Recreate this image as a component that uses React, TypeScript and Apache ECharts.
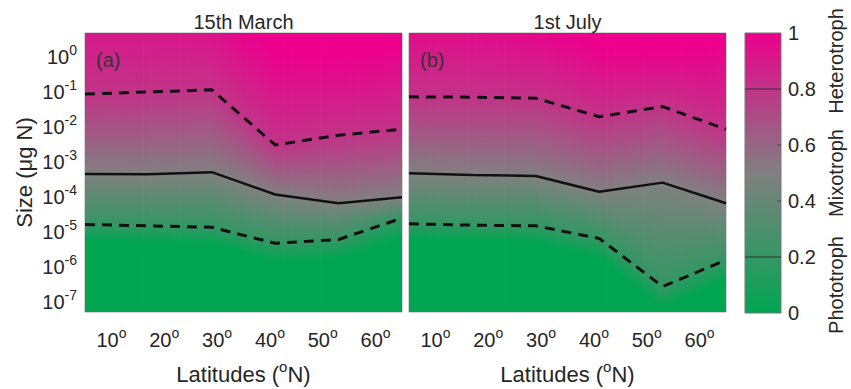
import React, { useEffect, useRef } from 'react';
import * as echarts from 'echarts';

// ---------- data ----------
const LATITUDES = [5, 17, 29, 41, 53, 65];
const LAT_TICKS = [10, 20, 30, 40, 50, 60];
const SIZE_TICKS = [-7, -6, -5, -4, -3, -2, -1, 0]; // log10 of size (µg N)
const SIZE_MIN = -7.3;
const SIZE_MAX = 0.7;
const LAT_MIN = 5;
const LAT_MAX = 65;

// heterotrophy level reached at each latitude (log10 size)
const LEVELS = [0, 0.2, 0.5, 0.8, 1];

// 15th March
const MARCH_L00 = [-5.25, -5.3, -5.35, -5.85, -5.8, -5.2];
const MARCH_L20 = [-4.79, -4.83, -4.87, -5.33, -5.22, -4.61];
const MARCH_L50 = [-3.34, -3.35, -3.29, -3.93, -4.18, -4.01];
const MARCH_L80 = [-1.05, -0.99, -0.93, -2.51, -2.23, -2.06];
const MARCH_L100 = [2.4, 2.2, 1.6, 0.2, 0.0, 0.3];

// 1st July
const JULY_L00 = [-5.2, -5.25, -5.3, -5.75, -7.2, -6.4];
const JULY_L20 = [-4.77, -4.81, -4.83, -5.19, -6.57, -5.81];
const JULY_L50 = [-3.32, -3.37, -3.4, -3.85, -3.59, -4.18];
const JULY_L80 = [-1.13, -1.14, -1.17, -1.7, -1.41, -2.06];
const JULY_L100 = [1.3, 1.3, 1.0, 0.3, 0.2, 0.4];

// colormap
const CMAP_STOPS = [0, 0.5, 1];
const CMAP_COLORS = [
  [0, 166, 81],
  [128, 128, 128],
  [236, 0, 140],
];
const COLORBAR_TICKS = [0, 0.2, 0.4, 0.6, 0.8, 1];
const COLORBAR_MINOR = [0.4, 0.6];
const COLORBAR_LINES = [0.2, 0.8];
const CLASS_NAMES = ['Phototroph', 'Mixotroph', 'Heterotroph'];
const CLASS_CENTERS = [0.1, 0.5, 0.9];

const PANEL_TITLES = ['15th March', '1st July'];
const PANEL_TAGS = ['(a)', '(b)'];

// ---------- helpers ----------
const FONT = 'Liberation Sans, Arial, Helvetica, sans-serif';
const TXT = '#262626';

const lerp = (a: number, b: number, t: number) => a + (b - a) * t;

function cmap(v: number): string {
  const x = Math.max(0, Math.min(1, v));
  let k = 0;
  while (k < CMAP_STOPS.length - 2 && x > CMAP_STOPS[k + 1]) k++;
  const t = (x - CMAP_STOPS[k]) / (CMAP_STOPS[k + 1] - CMAP_STOPS[k]);
  const c = CMAP_COLORS[k].map((a, j) => Math.round(lerp(a, CMAP_COLORS[k + 1][j], t)));
  return `rgb(${c[0]},${c[1]},${c[2]})`;
}

function valueAt(pos: number, knots: number[]): number {
  if (pos <= knots[0]) return LEVELS[0];
  for (let k = 0; k < knots.length - 1; k++) {
    if (pos <= knots[k + 1]) {
      return lerp(LEVELS[k], LEVELS[k + 1], (pos - knots[k]) / (knots[k + 1] - knots[k]));
    }
  }
  return LEVELS[LEVELS.length - 1];
}

function makeFieldRenderer(levelArrays: number[][]) {
  return (params: any, api: any) => {
    const i = params.dataIndex;
    const pTop = api.coord([LATITUDES[i], SIZE_MAX]);
    const pBot = api.coord([LATITUDES[i], SIZE_MIN]);
    const pRight = api.coord([LATITUDES[i + 1], SIZE_MAX]);
    const N = 24;
    const w = (pRight[0] - pTop[0]) / N;
    const children: any[] = [];
    for (let s = 0; s < N; s++) {
      const t = (s + 0.5) / N;
      const knots = levelArrays.map((a) => lerp(a[i], a[i + 1], t));
      const pts: number[][] = [[SIZE_MAX, valueAt(SIZE_MAX, knots)]];
      for (let k = knots.length - 1; k >= 0; k--) {
        if (knots[k] < SIZE_MAX && knots[k] > SIZE_MIN) pts.push([knots[k], LEVELS[k]]);
      }
      pts.push([SIZE_MIN, valueAt(SIZE_MIN, knots)]);
      const stops = pts.map(([p, v]) => ({
        offset: (SIZE_MAX - p) / (SIZE_MAX - SIZE_MIN),
        color: cmap(v),
      }));
      children.push({
        type: 'rect',
        shape: { x: pTop[0] + s * w, y: pTop[1], width: w + 0.8, height: pBot[1] - pTop[1] },
        style: { fill: new echarts.graphic.LinearGradient(0, 0, 0, 1, stops) },
      });
    }
    return { type: 'group', children };
  };
}

function colorbarRenderer(params: any, api: any) {
  const p0 = api.coord([0, 1]);
  const p1 = api.coord([1, 0]);
  const stops = CMAP_STOPS.map((s) => ({ offset: 1 - s, color: cmap(s) })).reverse();
  const children: any[] = [
    {
      type: 'rect',
      shape: { x: p0[0], y: p0[1], width: p1[0] - p0[0], height: p1[1] - p0[1] },
      style: { fill: new echarts.graphic.LinearGradient(0, 0, 0, 1, stops), stroke: '#777', lineWidth: 1 },
    },
  ];
  COLORBAR_LINES.forEach((v) => {
    const a = api.coord([0, v]);
    const b = api.coord([1, v]);
    children.push({
      type: 'line',
      shape: { x1: a[0], y1: a[1], x2: b[0], y2: b[1] },
      style: { stroke: '#333', lineWidth: 1 },
    });
  });
  COLORBAR_MINOR.forEach((v) => {
    const b = api.coord([1, v]);
    children.push({
      type: 'line',
      shape: { x1: b[0] - 4, y1: b[1], x2: b[0], y2: b[1] },
      style: { stroke: '#444', lineWidth: 1 },
    });
  });
  return { type: 'group', children };
}

const richTick = {
  n: { fontSize: 20, lineHeight: 28, color: TXT, fontFamily: FONT },
  s: { fontSize: 14, lineHeight: 14, verticalAlign: 'top', color: TXT, fontFamily: FONT },
};
const richName = {
  n: { fontSize: 22, lineHeight: 30, color: TXT, fontFamily: FONT },
  s: { fontSize: 15, lineHeight: 15, verticalAlign: 'top', color: TXT, fontFamily: FONT },
};

function contourSeries(gridIdx: number, arr: number[], dashed: boolean) {
  return {
    type: 'line',
    xAxisIndex: gridIdx,
    yAxisIndex: gridIdx,
    data: LATITUDES.map((l, k) => [l, arr[k]]),
    symbol: 'none',
    z: 5,
    lineStyle: {
      color: '#111',
      width: dashed ? 3 : 2.5,
      type: dashed ? [10, 7] : 'solid',
    },
    silent: true,
  };
}

const PANELS = [
  [MARCH_L00, MARCH_L20, MARCH_L50, MARCH_L80, MARCH_L100],
  [JULY_L00, JULY_L20, JULY_L50, JULY_L80, JULY_L100],
];

function buildOption() {
  const grids: any[] = [
    { left: 85, top: 33, width: 317, height: 279 },
    { left: 409, top: 33, width: 317, height: 279 },
  ].map((g) => ({ ...g, show: true, borderColor: '#aaa', borderWidth: 1, backgroundColor: 'transparent', containLabel: false, outerBoundsMode: 'none' }));
  grids.push({ left: 745, top: 33, width: 36, height: 280, show: false, containLabel: false, outerBoundsMode: 'none' });

  const xAxes: any[] = [0, 1].map((g) => ({
    type: 'value',
    gridIndex: g,
    min: LAT_MIN,
    max: LAT_MAX,
    axisLine: { show: false },
    axisTick: { show: false },
    splitLine: { show: false },
    axisLabel: {
      customValues: LAT_TICKS,
      margin: 14,
      formatter: (v: number) => `{n|${v}}{s|o}`,
      rich: richTick,
    },
    name: '{n|Latitudes (}{s|o}{n|N)}',
    nameLocation: 'middle',
    nameGap: 47,
    nameTextStyle: { rich: richName },
  }));
  xAxes.push({ type: 'value', gridIndex: 2, min: 0, max: 1, show: false });

  const yAxes: any[] = [0, 1].map((g) => ({
    type: 'value',
    gridIndex: g,
    min: SIZE_MIN,
    max: SIZE_MAX,
    axisLine: { show: false },
    axisTick: { show: false },
    splitLine: { show: false },
    axisLabel: {
      show: g === 0,
      customValues: SIZE_TICKS,
      margin: 8,
      formatter: (v: number) => `{n|10}{s|${Math.round(v)}}`,
      rich: richTick,
    },
    name: g === 0 ? 'Size (μg N)' : '',
    nameLocation: 'middle',
    nameGap: 50,
    nameTextStyle: { fontSize: 22, color: TXT, fontFamily: FONT },
  }));
  yAxes.push({
    type: 'value',
    gridIndex: 2,
    position: 'right',
    min: 0,
    max: 1,
    axisLine: { show: false },
    splitLine: { show: false },
    axisTick: { show: false },
    axisLabel: {
      customValues: COLORBAR_TICKS,
      margin: 7,
      fontSize: 20,
      color: TXT,
      fontFamily: FONT,
      formatter: (v: number) => String(+v.toFixed(1)),
    },
  });
  yAxes.push({
    type: 'value',
    gridIndex: 2,
    position: 'right',
    offset: 37,
    min: 0,
    max: 1,
    axisLine: { show: false },
    splitLine: { show: false },
    axisTick: { show: false },
    axisLabel: {
      customValues: CLASS_CENTERS,
      rotate: 90,
      margin: 8,
      fontSize: 20,
      color: TXT,
      fontFamily: FONT,
      formatter: (v: number) => {
        let best = 0;
        CLASS_CENTERS.forEach((c, k) => {
          if (Math.abs(c - v) < Math.abs(CLASS_CENTERS[best] - v)) best = k;
        });
        return CLASS_NAMES[best];
      },
    },
  });

  const series: any[] = [];
  PANELS.forEach((levels, g) => {
    series.push({
      type: 'custom',
      xAxisIndex: g,
      yAxisIndex: g,
      clip: true,
      silent: true,
      data: LATITUDES.slice(0, -1).map((l, i) => [l, LATITUDES[i + 1]]),
      encode: { x: [0, 1] },
      renderItem: makeFieldRenderer(levels),
      z: 1,
    });
    series.push(contourSeries(g, levels[1], true));
    series.push(contourSeries(g, levels[2], false));
    series.push(contourSeries(g, levels[3], true));
  });
  series.push({
    type: 'custom',
    xAxisIndex: 2,
    yAxisIndex: 2,
    silent: true,
    data: [[0, 0]],
    renderItem: colorbarRenderer,
  });

  const graphic: any[] = [];
  [243.5, 567.5].forEach((cx, k) => {
    graphic.push({
      type: 'text',
      x: cx,
      y: 22,
      style: { text: PANEL_TITLES[k], fontSize: 20, fontFamily: FONT, fill: TXT, textAlign: 'center', textVerticalAlign: 'middle' },
    });
  });
  [96, 420].forEach((x, k) => {
    graphic.push({
      type: 'text',
      x,
      y: 60,
      z: 10,
      style: { text: PANEL_TAGS[k], fontSize: 20, fontFamily: FONT, fill: '#333', textAlign: 'left', textVerticalAlign: 'middle' },
    });
  });

  return {
    animation: false,
    backgroundColor: '#fff',
    textStyle: { fontFamily: FONT, color: TXT },
    grid: grids,
    xAxis: xAxes,
    yAxis: yAxes,
    series,
    graphic,
  };
}

export default function App() {
  const ref = useRef<HTMLDivElement>(null);
  useEffect(() => {
    if (!ref.current) return;
    const chart = echarts.init(ref.current, null, { renderer: 'svg' });
    chart.setOption(buildOption() as any);
    return () => chart.dispose();
  }, []);
  return (
    <div
      ref={ref}
      style={{ position: 'fixed', left: 0, top: 0, width: 851, height: 389 }}
    />
  );
}
